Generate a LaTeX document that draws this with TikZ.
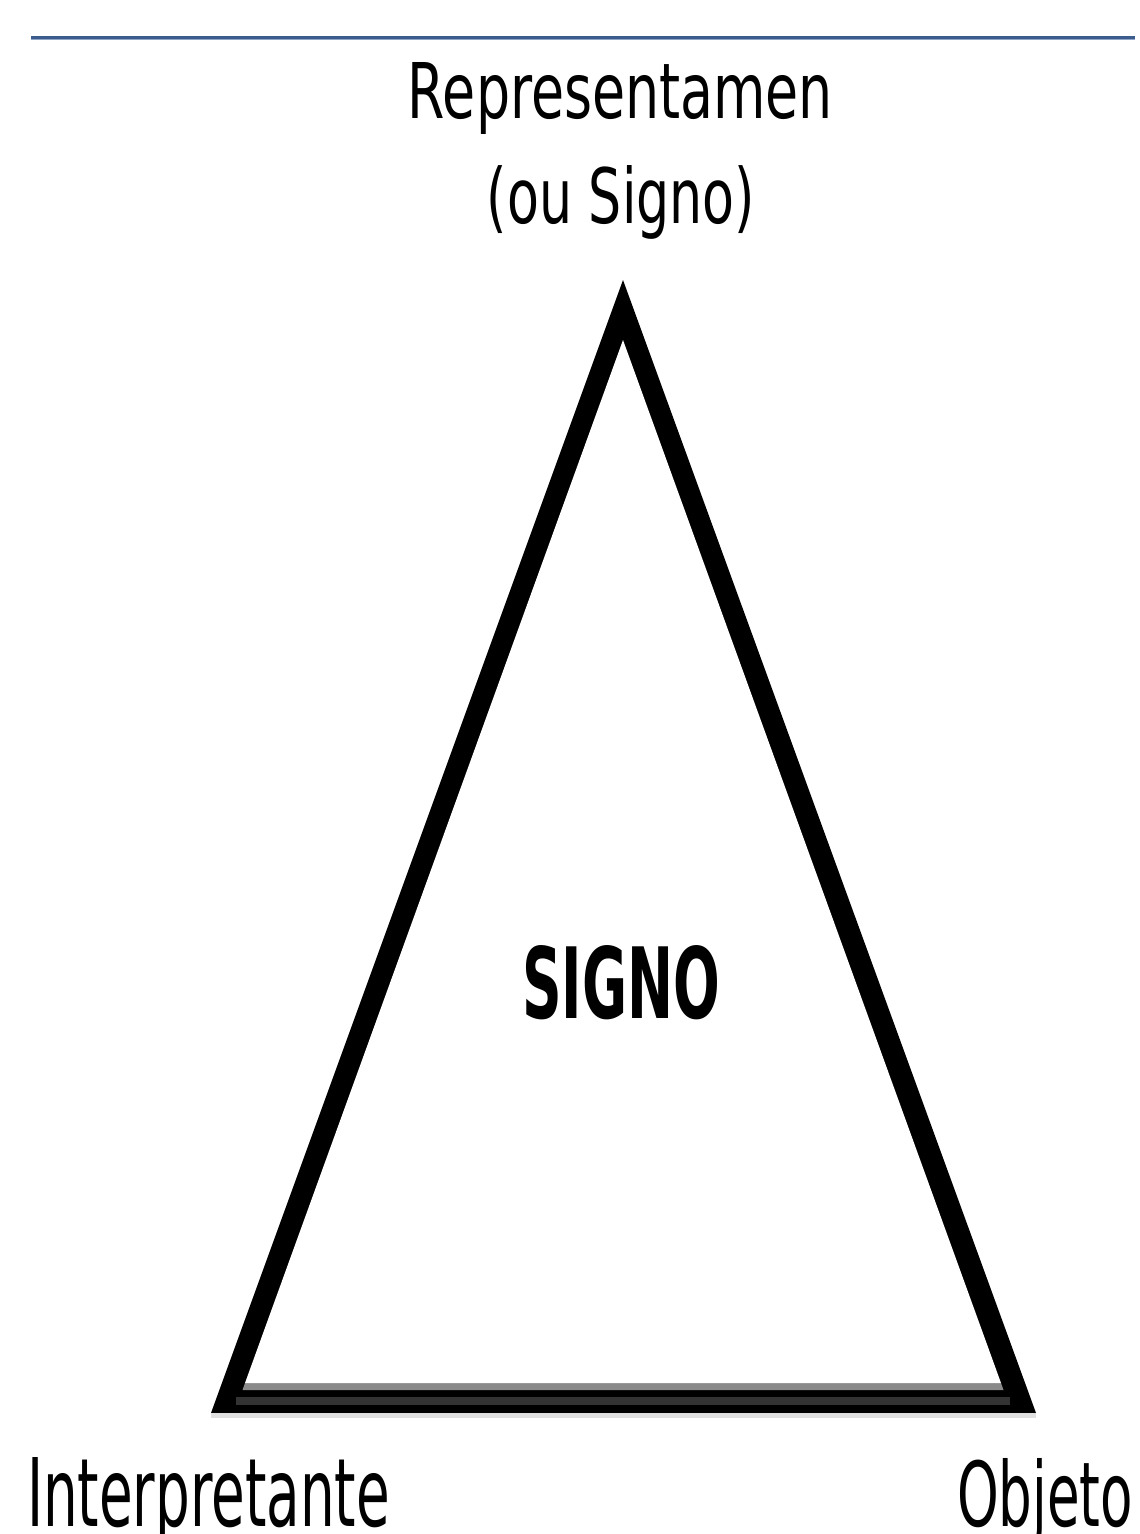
\documentclass[tikz,border=0pt]{standalone}
\usepackage{fontspec}
\usepackage{graphicx}
\setmainfont{DejaVu Sans}
\definecolor{rule}{HTML}{3B5C8C}
\definecolor{rulelight}{HTML}{8FA6C6}
\definecolor{bandgray}{HTML}{8A8A8A}
\definecolor{stroke}{HTML}{111111}
\definecolor{midgray}{HTML}{333333}
\tikzset{
  lbl/.style={anchor=base, inner sep=0pt, outer sep=0pt, text=black},
}
\begin{document}
\begin{tikzpicture}[x=1pt,y=-1pt]
\useasboundingbox[fill=white] (0,0) rectangle (1140,1534);
% top rule
\coordinate (ruleL) at (31,37.5);
\coordinate (ruleR) at (1135,37.5);
\draw[rule, line width=3pt] (ruleL) -- (ruleR);
\draw[rulelight, line width=0.8pt] ([yshift=-1.6pt]ruleL) -- ([yshift=-1.6pt]ruleR);
% triangle: outer and inner corners
\coordinate (apexO) at (623,280);
\coordinate (leftO) at (211,1413);
\coordinate (rightO) at (1036,1413);
\coordinate (apexI) at (623,340);
\coordinate (leftI) at (245,1383);
\coordinate (rightI) at (1001,1383);
\coordinate (leftG) at (242.5,1390);
\coordinate (rightG) at (1003.5,1390);
\fill[stroke] (apexO) -- (leftO) -- (rightO) -- cycle;
% dark middle band of the base
\fill[midgray] (236,1397) rectangle (1010,1405);
% grey band on the inner side of the base
\fill[bandgray] (leftI) -- (rightI) -- (rightG) -- (leftG) -- cycle;
\fill[white] (apexI) -- (leftI) -- (rightI) -- cycle;
% light shadow under the base
\fill[black!12] (211,1413) rectangle (1036,1418);
% labels
\node[lbl] (rep) at (620.5,118) {\resizebox{425pt}{56pt}{Representamen}};
\node[lbl] (ou) at (621,223) {\resizebox{268pt}{58pt}{(ou Signo)}};
\node[lbl] (signo) at (621,1018) {\resizebox{198pt}{73pt}{\bfseries SIGNO}};
\node[lbl, anchor=base west] (interp) at (27,1526) {\resizebox{363pt}{69pt}{Interpretante}};
\node[lbl, anchor=base west] (obj) at (957,1526) {\resizebox{176pt}{68pt}{Objeto}};
\end{tikzpicture}
\end{document}
